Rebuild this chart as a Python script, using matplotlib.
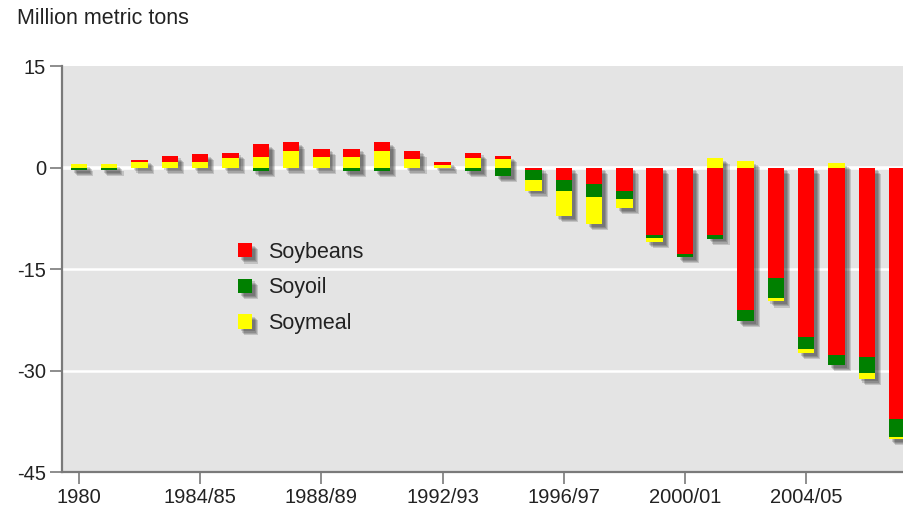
import numpy as np
import matplotlib
matplotlib.use("Agg")
import matplotlib.pyplot as plt
import matplotlib.patheffects as pe
from matplotlib.patches import Patch

plt.rcParams['font.family'] = ['Liberation Sans', 'DejaVu Sans']

seasons = ['1980', '1981', '1982', '1983', '1984/85', '1985/86', '1986/87',
           '1987/88', '1988/89', '1989/90', '1990/91', '1991/92', '1992/93',
           '1993/94', '1994/95', '1995/96', '1996/97', '1997/98', '1998/99',
           '1999/00', '2000/01', '2001/02', '2002/03', '2003/04', '2004/05',
           '2005/06', '2006/07', '2007/08']
tick_labels = ['1980', '1984/85', '1988/89', '1992/93', '1996/97', '2000/01', '2004/05']

# net trade, million metric tons
soybeans = [0, 0, 0.35, 1.0, 1.25, 0.85, 1.9, 1.2, 1.2, 1.2, 1.2, 1.2, 0.35, 0.8,
            0.4, -0.4, -1.9, -2.5, -3.4, -9.9, -12.8, -9.9, -21.0, -16.3, -25.1,
            -27.7, -28.0, -37.2]
soyoil = [-0.4, -0.4, 0, 0, 0, 0, -0.5, 0, 0, -0.5, -0.5, 0, 0, -0.5,
          -1.3, -1.5, -1.5, -1.8, -1.2, -0.5, -0.4, -0.6, -1.7, -3.0, -1.7,
          -1.5, -2.4, -2.6]
soymeal = [0.45, 0.45, 0.75, 0.75, 0.75, 1.35, 1.6, 2.5, 1.6, 1.6, 2.5, 1.3, 0.4, 1.4,
           1.3, -1.5, -3.8, -4.1, -1.4, -0.6, 0, 1.35, 1.0, -0.5, -0.6,
           0.7, -0.8, -0.3]

colors = {'Soybeans': '#ff0000', 'Soyoil': '#008000', 'Soymeal': '#ffff00'}
series = {'Soybeans': np.array(soybeans), 'Soyoil': np.array(soyoil),
          'Soymeal': np.array(soymeal)}


def shadow():
    return [pe.SimplePatchShadow(offset=(o, -o), shadow_rgbFace='black', alpha=0.15)
            for o in (2.0, 2.8, 3.6, 4.4)]


fig = plt.figure(figsize=(9.04, 5.13), dpi=100)
ax = fig.add_axes([0.0686, 0.0799, 0.9314, 0.7914])
ax.set_facecolor('#e4e4e4')

x = np.arange(len(seasons))
w = 0.54

pos_total = sum(np.clip(v, 0, None) for v in series.values())
neg_total = sum(np.clip(v, None, 0) for v in series.values())

# shadow of the whole stack
ax.bar(x, pos_total - neg_total, bottom=neg_total, width=w, color='gray',
       path_effects=shadow(), zorder=2)

base = np.zeros(len(x))
for name in ['Soymeal', 'Soyoil', 'Soybeans']:
    v = np.clip(series[name], 0, None)
    ax.bar(x, v, bottom=base, width=w, color=colors[name], linewidth=0, zorder=3)
    base = base + v

base = np.zeros(len(x))
for name in ['Soybeans', 'Soyoil', 'Soymeal']:
    v = np.clip(series[name], None, 0)
    ax.bar(x, v, bottom=base, width=w, color=colors[name], linewidth=0, zorder=3)
    base = base + v

ax.set_ylim(-45, 15)
ax.set_xlim(-0.56, 27.23)
ax.set_yticks([15, 0, -15, -30, -45])
ax.set_yticklabels(['15', '0', '-15', '-30', '-45'])
ax.set_xticks([seasons.index(t) for t in tick_labels])
ax.set_xticklabels(tick_labels)

for yv in [-15, -30]:
    ax.axhline(yv, color='white', lw=1.8, zorder=1)
ax.axhline(0, color='white', lw=2.6, zorder=1)

for s in ['top', 'right']:
    ax.spines[s].set_visible(False)
for s in ['left', 'bottom']:
    ax.spines[s].set_color('#7a7a7a')
    ax.spines[s].set_linewidth(1.6)
ax.tick_params(axis='both', colors='#7a7a7a', length=8.5, width=1.2,
               labelcolor='#222222', labelsize=14.5, pad=3)

handles = [Patch(facecolor=colors[n], linewidth=0,
                 path_effects=shadow() + [pe.Normal()], label=n)
           for n in ['Soybeans', 'Soyoil', 'Soymeal']]
ax.legend(handles=handles, loc='upper left', bbox_to_anchor=(0.209, 0.567),
          frameon=False, fontsize=15.5, handlelength=0.65, handleheight=0.65,
          handletextpad=0.75, labelspacing=0.68, borderpad=0, borderaxespad=0,
          labelcolor='#222222')

fig.text(17 / 904, 1 - 19 / 513, 'Million metric tons', fontsize=15.5,
         color='#222222', va='center', ha='left')

fig.savefig('out.png', dpi=100, facecolor='white')
